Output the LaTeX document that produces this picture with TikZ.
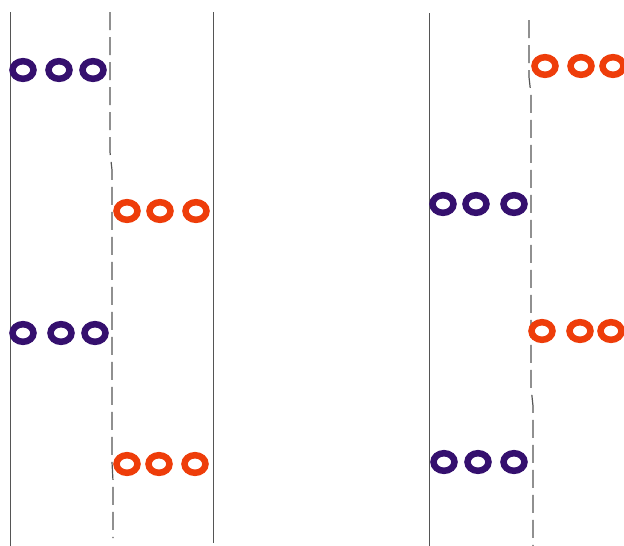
\documentclass[tikz,border=0pt]{standalone}
\usepackage{tikz}
\definecolor{ringpurple}{RGB}{53, 16, 110}
\definecolor{ringorange}{RGB}{238, 61, 10}
\definecolor{walldark}{RGB}{85, 85, 85}
\tikzset{
  wall/.style={walldark, line width=0.9pt},
  boundary/.style={walldark, line width=1.2pt, dash pattern=on 18pt off 7pt},
  ringP/.style={draw=ringpurple, line width=6.5pt},
  ringO/.style={draw=ringorange, line width=6.5pt}
}

\begin{document}
\begin{tikzpicture}[x=1pt, y=-1pt]
    \useasboundingbox (0,0) rectangle (624,546);

    % Panel izquierdo: paredes
    \draw[wall] (10,12) -- (10,546);
    \draw[wall] (213,12) -- (213,543);
    % Frontera desplazada
    \draw[boundary] (110,12) -- (110,152) -- (112,170) -- (112,462) -- (113,481) -- (113,538);

    % Anillos del panel izquierdo
    \foreach \x in {23,59,93} \draw[ringP] (\x,70) ellipse (10.5 and 8.8);
    \foreach \x in {127,160,196} \draw[ringO] (\x,211) ellipse (10.5 and 8.8);
    \foreach \x in {23,61,95} \draw[ringP] (\x,333) ellipse (10.5 and 8.8);
    \foreach \x in {127,159,195} \draw[ringO] (\x,464) ellipse (10.5 and 8.8);

    % Panel derecho: pared
    \draw[wall] (429,13) -- (429,546);
    % Frontera desplazada
    \draw[boundary] (529,20) -- (529,77) -- (531,95) -- (531,387) -- (533,406) -- (533,546);

    % Anillos del panel derecho
    \foreach \x in {545,581,613} \draw[ringO] (\x,66) ellipse (10.5 and 8.8);
    \foreach \x in {443,476,514} \draw[ringP] (\x,204) ellipse (10.5 and 8.8);
    \foreach \x in {542,580,611} \draw[ringO] (\x,331) ellipse (10.5 and 8.8);
    \foreach \x in {444,478,514} \draw[ringP] (\x,462) ellipse (10.5 and 8.8);
\end{tikzpicture}
\end{document}
